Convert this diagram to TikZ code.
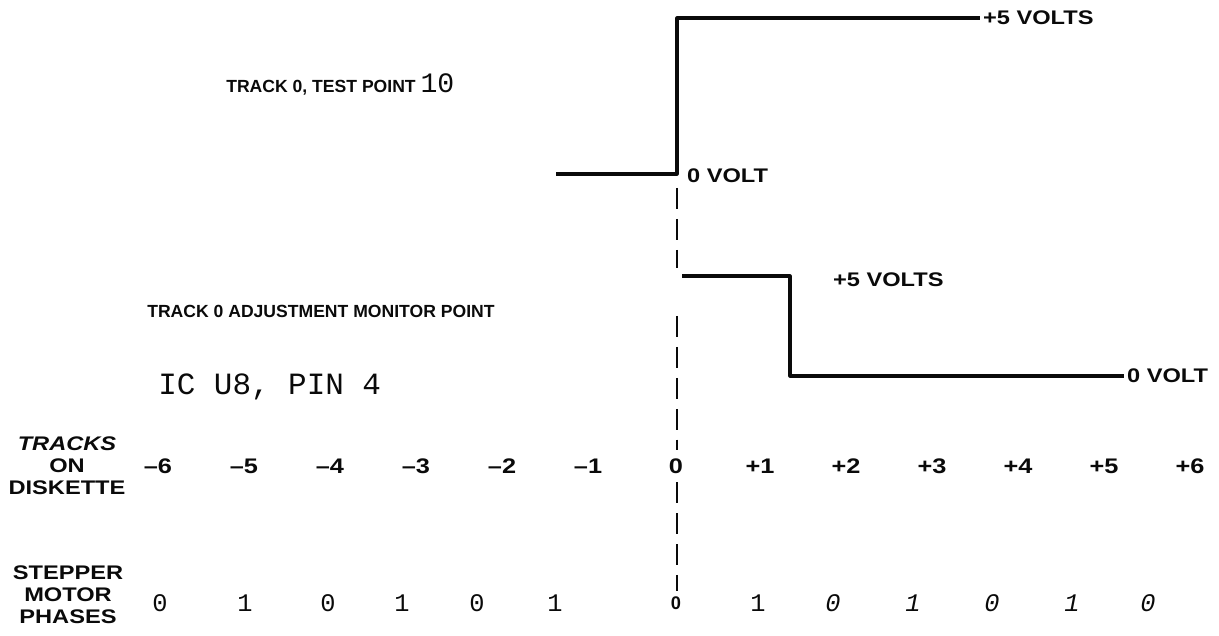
\documentclass[tikz,border=0pt]{standalone}
\usepackage{fontspec}
\setmainfont{Liberation Sans}
\newfontfamily\typefont{Liberation Mono}
\newfontfamily\widesans[FakeStretch=1.2]{Liberation Sans}
\usetikzlibrary{positioning}
\definecolor{inkblack}{RGB}{10,10,10}
\tikzset{
  sigtitle/.style={
    anchor=west, inner sep=0pt, text=inkblack,
    font=\fontsize{12.5}{15}\selectfont\bfseries
  },
  voltlabel/.style={
    anchor=west, inner sep=2pt, text=inkblack,
    font=\widesans\fontsize{14}{16}\selectfont\bfseries
  },
  rowlabel/.style={
    align=center, inner sep=0pt, text=inkblack,
    font=\widesans\fontsize{14}{15.6}\selectfont\bfseries
  },
  trackno/.style={
    inner sep=1pt, text=inkblack,
    font=\widesans\fontsize{15}{16}\selectfont\bfseries
  },
  phasedigit/.style={
    inner sep=1pt, text=inkblack,
    font=\typefont\fontsize{18}{20}\selectfont
  },
  phaseslant/.style={
    phasedigit, font=\typefont\itshape\fontsize{18}{20}\selectfont
  },
  monotext/.style={
    anchor=west, inner sep=0pt, text=inkblack,
    font=\typefont\fontsize{22}{24}\selectfont
  },
  waveline/.style={
    draw=inkblack, line width=2.2pt, line join=round
  },
  guideline/.style={
    draw=inkblack, line width=1.3pt,
    dash pattern=on 15pt off 7pt
  },
}
\begin{document}
\begin{tikzpicture}[x=0.025cm, y=-0.025cm]
  \useasboundingbox (0,0) rectangle (1219,636);

  %% Signal titles
  \node[sigtitle] (tp) at (226,88) {TRACK 0, TEST POINT};
  \node[monotext, anchor=base west, font=\typefont\fontsize{20}{22}\selectfont]
    (tpnum) at ([xshift=3pt]tp.base east) {10};
  \node[sigtitle] (mon) at (147,311) {TRACK 0 ADJUSTMENT MONITOR POINT};
  \node[monotext] (pin) at (158,387) {IC U8, PIN 4};

  %% Voltage labels
  \node[voltlabel] (hiA) at (980,18) {+5 VOLTS};
  \node[voltlabel] (loA) at (684,176) {0 VOLT};
  \node[voltlabel] (hiB) at (830,280) {+5 VOLTS};
  \node[voltlabel] (loB) at (1124,376) {0 VOLT};

  %% Test point waveform
  \coordinate (a0) at (556,174);
  \coordinate (a1) at (677,174);
  \coordinate (a2) at (677,18);
  \draw[waveline] (a0) -- (a1) -- (a2) -- (hiA.west);

  %% Monitor point waveform
  \coordinate (b0) at (682,276);
  \coordinate (b1) at (790,276);
  \coordinate (b2) at (790,376);
  \draw[waveline] (b0) -- (b1) -- (b2) -- (loB.west);

  %% Row labels
  \node[rowlabel] (trk) at (67,466) {\itshape TRACKS\\ON\\DISKETTE};
  \node[rowlabel] (phs) at (68,595) {STEPPER\\MOTOR\\PHASES};

  %% Tracks on diskette
  \node[trackno] (tm6) at (158,466) {–6};
  \node[trackno] (tm5) at (244,466) {–5};
  \node[trackno] (tm4) at (330,466) {–4};
  \node[trackno] (tm3) at (416,466) {–3};
  \node[trackno] (tm2) at (502,466) {–2};
  \node[trackno] (tm1) at (588,466) {–1};
  \node[trackno] (t0)  at (676,466) {0};
  \node[trackno] (tp1) at (760,466) {+1};
  \node[trackno] (tp2) at (846,466) {+2};
  \node[trackno] (tp3) at (932,466) {+3};
  \node[trackno] (tp4) at (1018,466) {+4};
  \node[trackno] (tp5) at (1104,466) {+5};
  \node[trackno] (tp6) at (1190,466) {+6};

  %% Stepper motor phases
  \node[phasedigit] (pm6) at (160,603) {0};
  \node[phasedigit] (pm5) at (245,603) {1};
  \node[phasedigit] (pm4) at (328,603) {0};
  \node[phasedigit] (pm3) at (402,603) {1};
  \node[phasedigit] (pm2) at (477,603) {0};
  \node[phasedigit] (pm1) at (555,603) {1};
  \node[trackno, font=\fontsize{13}{15}\selectfont\bfseries] (p0) at (676,603) {0};
  \node[phasedigit] (pp1) at (758,603) {1};
  \node[phaseslant] (pp2) at (833,603) {0};
  \node[phaseslant] (pp3) at (913,603) {1};
  \node[phaseslant] (pp4) at (992,603) {0};
  \node[phaseslant] (pp5) at (1072,603) {1};
  \node[phaseslant] (pp6) at (1148,603) {0};

  %% Dashed guide at track 0
  \coordinate (g1) at (677,188);
  \coordinate (g2) at (677,268);
  \coordinate (g3) at (677,316);
  \draw[guideline] (g1) -- (g2);
  \draw[guideline, shorten >=5pt] (g3) -- (t0.north -| g3);
  \draw[guideline, shorten <=5pt, shorten >=3pt] (t0.south -| g3) -- (p0.north -| g3);

\end{tikzpicture}
\end{document}
